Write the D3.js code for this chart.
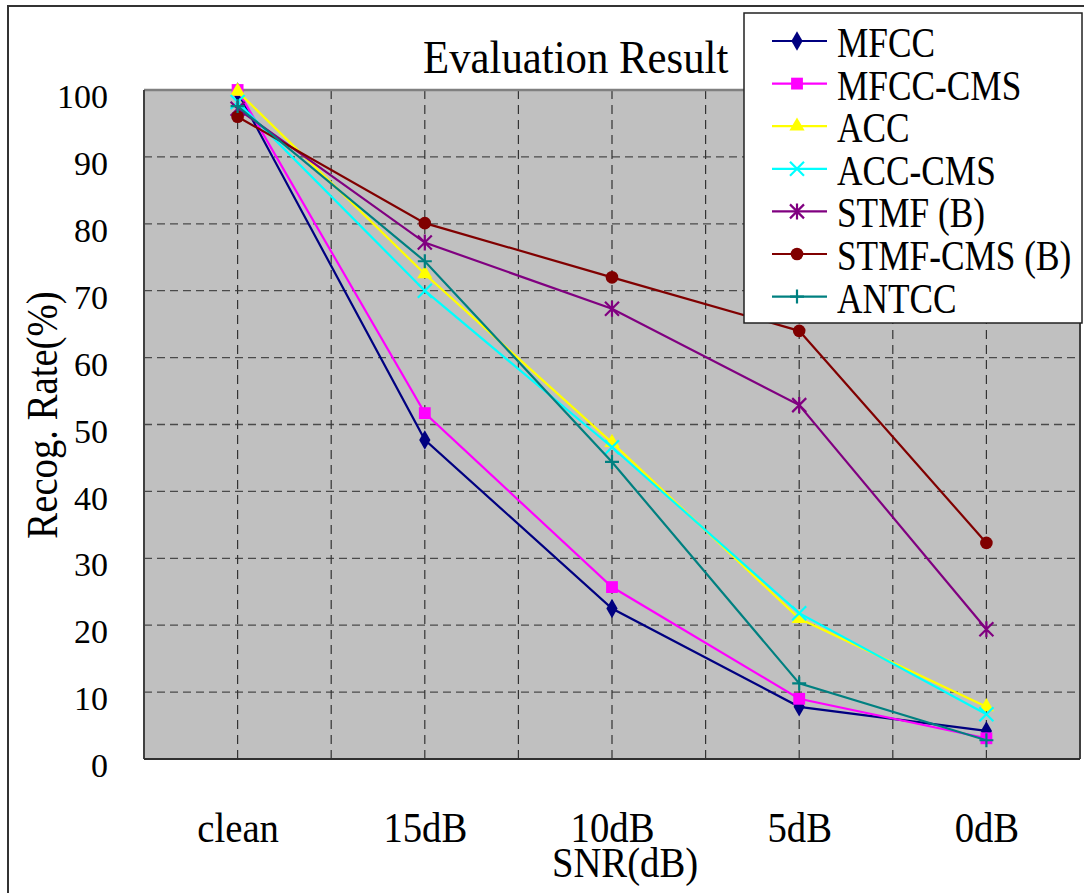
<!DOCTYPE html>
<html>
<head>
<meta charset="utf-8">
<script src="https://cdn.jsdelivr.net/npm/d3@7"></script>
<style>
  html, body { margin: 0; padding: 0; background: #ffffff; }
  svg { display: block; }
  text { font-family: "Liberation Serif", "Times New Roman", serif; fill: #000; }
</style>
</head>
<body>
<svg id="chart" width="1084" height="893"></svg>
<script>
// Noise conditions along the x axis
const categories = ["clean", "15dB", "10dB", "5dB", "0dB"];

// Recognition rate (%) per feature set
const seriesNames = ["MFCC", "MFCC-CMS", "ACC", "ACC-CMS", "STMF (B)", "STMF-CMS (B)", "ANTCC"];
const mfcc       = [99.7, 47.7, 22.5, 7.8, 4.2];
const mfccCms    = [100.0, 51.7, 25.7, 9.0, 3.1];
const acc        = [99.8, 72.5, 47.3, 21.0, 7.8];
const accCms     = [98.2, 70.0, 46.6, 21.8, 6.7];
const stmf       = [97.2, 77.2, 67.3, 52.9, 19.4];
const stmfCms    = [96.0, 80.1, 72.0, 64.0, 32.3];
const antcc      = [97.6, 74.4, 44.4, 11.3, 2.8];

const yTicks = [0, 10, 20, 30, 40, 50, 60, 70, 80, 90, 100];

const seriesValues = [mfcc, mfccCms, acc, accCms, stmf, stmfCms, antcc];
const seriesColors = ["#000080", "#ff00ff", "#ffff00", "#00ffff", "#800080", "#800000", "#008080"];
const seriesMarkers = ["diamond", "square", "triangle", "x", "asterisk", "circle", "plus"];

const svg = d3.select("#chart");
const plot = { left: 144, right: 1080, top: 90, bottom: 759 };

const x = d3.scalePoint().domain(categories).range([plot.left, plot.right]).padding(0.5);
const xBand = d3.scaleBand().domain(categories).range([plot.left, plot.right]);
const y = d3.scaleLinear().domain([0, 100]).range([plot.bottom, plot.top]);

// squeeze text horizontally to the narrow serif look
function squeeze(sel, k) {
  sel.each(function () {
    const w = this.getComputedTextLength();
    d3.select(this).attr("textLength", w * k).attr("lengthAdjust", "spacingAndGlyphs");
  });
}

// outer frame
svg.append("path")
  .attr("d", "M8,893 L8,6 L1084,6")
  .attr("fill", "none").attr("stroke", "#333").attr("stroke-width", 2);

// plot background
svg.append("rect")
  .attr("x", plot.left).attr("y", plot.top)
  .attr("width", plot.right - plot.left).attr("height", plot.bottom - plot.top)
  .attr("fill", "#c0c0c0");

// horizontal dashed grid
svg.append("g").selectAll("line").data(yTicks.filter(d => d > 0 && d < 100)).join("line")
  .attr("x1", plot.left).attr("x2", plot.right)
  .attr("y1", d => y(d)).attr("y2", d => y(d))
  .attr("stroke", "#4a4a4a").attr("stroke-width", 1.3).attr("stroke-dasharray", "8,5");

// vertical dashed grid at category centres and band boundaries
const vLines = categories.map(c => x(c)).concat(categories.slice(1).map(c => xBand(c)));
svg.append("g").selectAll("line").data(vLines).join("line")
  .attr("x1", d => d).attr("x2", d => d)
  .attr("y1", plot.top).attr("y2", plot.bottom)
  .attr("stroke", "#333").attr("stroke-width", 1.2).attr("stroke-dasharray", "9,6");

// plot frame
svg.append("line").attr("x1", plot.left).attr("x2", plot.right).attr("y1", plot.top).attr("y2", plot.top)
  .attr("stroke", "#808080").attr("stroke-width", 2.5);
svg.append("line").attr("x1", plot.left).attr("x2", plot.left).attr("y1", plot.top).attr("y2", plot.bottom)
  .attr("stroke", "#404040").attr("stroke-width", 2);
svg.append("line").attr("x1", plot.right).attr("x2", plot.right).attr("y1", plot.top).attr("y2", plot.bottom)
  .attr("stroke", "#404040").attr("stroke-width", 2);
svg.append("line").attr("x1", plot.left).attr("x2", plot.right).attr("y1", plot.bottom).attr("y2", plot.bottom)
  .attr("stroke", "#303030").attr("stroke-width", 2);

// y axis tick labels
const yAxis = svg.append("g")
  .attr("transform", `translate(${plot.left},0)`)
  .call(d3.axisLeft(y).tickValues(yTicks).tickSize(0).tickPadding(36).tickFormat(d3.format("d")));
yAxis.select(".domain").remove();
yAxis.selectAll("text")
  .attr("dy", "0.52em")
  .style("font-family", "\"Liberation Serif\", \"Times New Roman\", serif")
  .style("font-size", "34px").attr("fill", "#000");

// x axis category labels
const xAxis = svg.append("g")
  .attr("transform", `translate(0,${plot.bottom})`)
  .call(d3.axisBottom(x).tickSize(0).tickPadding(0));
xAxis.select(".domain").remove();
xAxis.selectAll("text")
  .attr("y", 83).attr("dy", 0)
  .style("font-family", "\"Liberation Serif\", \"Times New Roman\", serif")
  .style("font-size", "43px").attr("fill", "#000")
  .call(squeeze, 0.9);

// axis titles
svg.append("text")
  .attr("x", 625).attr("y", 877).attr("text-anchor", "middle")
  .style("font-size", "43px").text("SNR(dB)")
  .call(squeeze, 0.9);

svg.append("text")
  .attr("transform", "translate(57,415) rotate(-90)")
  .attr("text-anchor", "middle")
  .style("font-size", "44px").text("Recog. Rate(%)")
  .call(squeeze, 0.88);

// chart title
svg.append("text")
  .attr("x", 423).attr("y", 73)
  .style("font-size", "46px").text("Evaluation Result")
  .call(squeeze, 0.93);

// marker shapes
function markerPath(type) {
  switch (type) {
    case "diamond":  return d3.symbol(d3.symbolDiamond, 110)();
    case "square":   return d3.symbol(d3.symbolSquare, 140)();
    case "triangle": return d3.symbol(d3.symbolTriangle, 100)();
    case "circle":   return d3.symbol(d3.symbolCircle, 125)();
    case "x":        return "M-7,-7L7,7M-7,7L7,-7";
    case "plus":     return "M-7,0L7,0M0,-7L0,7";
    case "asterisk": return "M-7,-7L7,7M-7,7L7,-7M0,-8L0,8";
  }
}
function drawMarker(g, type, color) {
  const filled = ["diamond", "square", "triangle", "circle"].includes(type);
  g.append("path")
    .attr("d", markerPath(type))
    .attr("fill", filled ? color : "none")
    .attr("stroke", color)
    .attr("stroke-width", filled ? 0 : 2.2);
}

// series lines and markers
const line = d3.line().x((d, i) => x(categories[i])).y(d => y(d));
const seriesG = svg.append("g");
seriesValues.forEach((vals, s) => {
  const g = seriesG.append("g");
  g.append("path")
    .attr("d", line(vals))
    .attr("fill", "none")
    .attr("stroke", seriesColors[s])
    .attr("stroke-width", 2.2);
  vals.forEach((v, i) => {
    const m = g.append("g").attr("transform", `translate(${x(categories[i])},${y(v)})`);
    drawMarker(m, seriesMarkers[s], seriesColors[s]);
  });
});

// legend
const legend = svg.append("g");
legend.append("rect")
  .attr("x", 744).attr("y", 13).attr("width", 338).attr("height", 310)
  .attr("fill", "#fff").attr("stroke", "#222").attr("stroke-width", 1.5);
seriesNames.forEach((name, s) => {
  const cy = 41 + s * 42.6;
  const row = legend.append("g");
  row.append("line")
    .attr("x1", 772).attr("x2", 827).attr("y1", cy).attr("y2", cy)
    .attr("stroke", seriesColors[s]).attr("stroke-width", 2.2);
  const m = row.append("g").attr("transform", `translate(797,${cy})`);
  drawMarker(m, seriesMarkers[s], seriesColors[s]);
  row.append("text")
    .attr("x", 837).attr("y", cy + 16)
    .style("font-size", "42px").text(name)
    .call(squeeze, 0.84);
});
</script>
</body>
</html>
